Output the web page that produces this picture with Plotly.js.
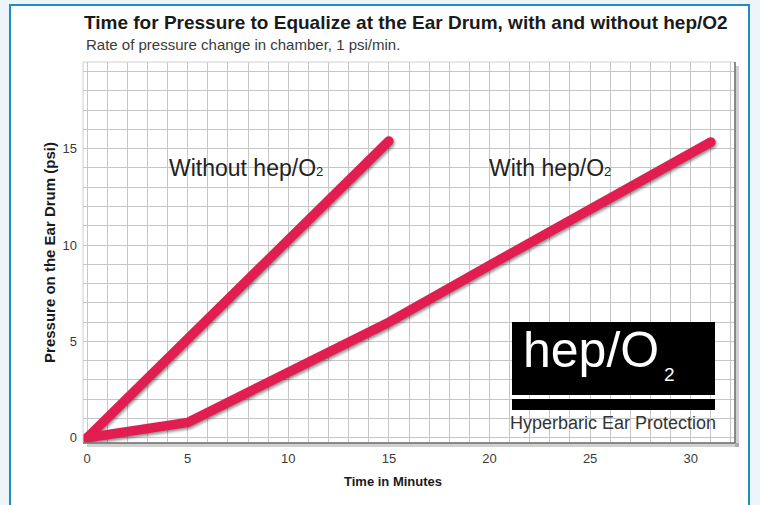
<!DOCTYPE html>
<html>
<head>
<meta charset="utf-8">
<script src="https://cdn.plot.ly/plotly-3.0.1.min.js"></script>
<style>
html,body{margin:0;padding:0;background:#fff;}
#chart{width:760px;height:505px;}
</style>
</head>
<body>
<div id="chart"></div>
<script>
// Data
const withoutX = [0, 15];
const withoutY = [0, 15.4];
const withX = [0, 5, 10, 15, 20, 25, 31];
const withY = [0, 0.8, 3.4, 6.0, 8.95, 11.9, 15.35];
const xTicks = [0, 5, 10, 15, 20, 25, 30];
const yTicks = [0, 5, 10, 15];

const LINE = '#e21d4f';
const FONT = 'Liberation Sans, Arial, sans-serif';

// pixel helpers for layout placement (plot area: l=83, r=735, t=62, b=443)
const L = 83, R = 735, T = 62, B = 443;
const px = v => (v - L) / (R - L);
const py = v => (B - v) / (B - T);

const traces = [
  {x: withoutX, y: withoutY, mode: 'lines', name: 'Without hep/O2',
   line: {color: LINE, width: 9.5}, hoverinfo: 'skip'},
  {x: withX, y: withY, mode: 'lines', name: 'With hep/O2',
   line: {color: LINE, width: 9.5}, hoverinfo: 'skip'}
];

const layout = {
  width: 760, height: 505,
  margin: {l: L, r: 760 - R, t: T, b: 505 - B, pad: 0},
  paper_bgcolor: '#edf5fa',
  plot_bgcolor: '#ffffff',
  showlegend: false,
  font: {family: FONT, color: '#333'},
  title: {
    text: '<b>Time for Pressure to Equalize at the Ear Drum, with and without hep/O2</b>',
    font: {family: FONT, size: 19, color: '#1a1a1a'},
    xref: 'container', yref: 'container',
    x: 84 / 760, xanchor: 'left',
    y: 1 - 22 / 505, yanchor: 'middle'
  },
  xaxis: {
    range: [-0.2, 32.2],
    tickmode: 'array', tickvals: xTicks,
    ticks: '', showline: false, zeroline: false,
    showgrid: true, gridcolor: '#c6c6c6', gridwidth: 1,
    minor: {dtick: 1, tick0: 0, showgrid: true, gridcolor: '#c6c6c6', gridwidth: 1},
    tickfont: {family: FONT, size: 13, color: '#3a3a3a'},
    ticklabelstandoff: 6,
    fixedrange: true
  },
  yaxis: {
    range: [-0.27, 19.5],
    tickmode: 'array', tickvals: yTicks,
    ticks: '', showline: false, zeroline: false,
    showgrid: true, gridcolor: '#c6c6c6', gridwidth: 1,
    minor: {dtick: 1, tick0: 0, showgrid: true, gridcolor: '#c6c6c6', gridwidth: 1},
    tickfont: {family: FONT, size: 13, color: '#3a3a3a'},
    ticklabelstandoff: 5,
    title: {text: '<b>Pressure on the Ear Drum (psi)</b>', font: {family: FONT, size: 15, color: '#1a1a1a'}, standoff: 3},
    fixedrange: true
  },
  shapes: [
    // outer white card with blue frame
    {type: 'rect', xref: 'paper', yref: 'paper', layer: 'below',
     x0: px(10), x1: px(749), y0: py(520), y1: py(5),
     fillcolor: '#ffffff', line: {color: '#1e8dc0', width: 2}},
    // plot drop shadow (right and bottom)
    {type: 'rect', xref: 'paper', yref: 'paper', layer: 'below',
     x0: px(R), x1: px(R + 4), y0: py(B + 4), y1: py(T + 4),
     fillcolor: 'rgba(0,0,0,0.18)', line: {width: 0}},
    {type: 'rect', xref: 'paper', yref: 'paper', layer: 'below',
     x0: px(L + 4), x1: px(R + 4), y0: py(B + 4), y1: py(B),
     fillcolor: 'rgba(0,0,0,0.18)', line: {width: 0}},
    // plot border
    {type: 'rect', xref: 'paper', yref: 'paper', layer: 'above',
     x0: 0, x1: 1, y0: 0, y1: 1, line: {color: '#cfcfcf', width: 1}},
    {type: 'line', xref: 'paper', yref: 'paper', layer: 'above',
     x0: 1, x1: 1, y0: 0, y1: 1, line: {color: '#6e6e6e', width: 1.5}},
    {type: 'line', xref: 'paper', yref: 'paper', layer: 'above',
     x0: 0, x1: 1, y0: 0, y1: 0, line: {color: '#6e6e6e', width: 1.5}},
    // logo box
    {type: 'rect', xref: 'paper', yref: 'paper', layer: 'above',
     x0: px(512), x1: px(715), y0: py(395), y1: py(322),
     fillcolor: '#000000', line: {width: 0}},
    {type: 'rect', xref: 'paper', yref: 'paper', layer: 'above',
     x0: px(512), x1: px(715), y0: py(410), y1: py(399),
     fillcolor: '#000000', line: {width: 0}}
  ],
  annotations: [
    {xref: 'paper', yref: 'paper', x: px(84), y: py(45),
     xanchor: 'left', yanchor: 'middle', showarrow: false,
     text: 'Rate of pressure change in chamber, 1 psi/min.',
     font: {family: FONT, size: 15, color: '#3a3a3a'}},
    {xref: 'paper', yref: 'paper', x: px(393), y: py(481),
     xanchor: 'center', yanchor: 'middle', showarrow: false,
     text: '<b>Time in Minutes</b>',
     font: {family: FONT, size: 13, color: '#1a1a1a'}},
    {xref: 'x', yref: 'y', x: 7.9, y: 14.0, showarrow: false,
     text: 'Without hep/O<span style="font-size:13px">2</span>', font: {family: FONT, size: 23, color: '#222'}},
    {xref: 'x', yref: 'y', x: 23.0, y: 14.0, showarrow: false,
     text: 'With hep/O<span style="font-size:13px">2</span>', font: {family: FONT, size: 23, color: '#222'}},
    {xref: 'paper', yref: 'paper', x: px(521), y: py(350), xanchor: 'left', yanchor: 'middle',
     showarrow: false, text: 'hep/O', font: {family: FONT, size: 50, color: '#ffffff'}},
    {xref: 'paper', yref: 'paper', x: px(662), y: py(374), xanchor: 'left', yanchor: 'middle',
     showarrow: false, text: '2', font: {family: FONT, size: 19, color: '#ffffff'}},
    {xref: 'paper', yref: 'paper', x: px(613), y: py(423), xanchor: 'center', yanchor: 'middle',
     showarrow: false, text: 'Hyperbaric Ear Protection', font: {family: FONT, size: 18, color: '#333'}}
  ]
};

Plotly.newPlot('chart', traces, layout, {staticPlot: true, displayModeBar: false}).then(function () {
  document.querySelectorAll('.scatterlayer .js-line').forEach(function (p) {
    p.style.strokeLinecap = 'round';
    p.style.strokeLinejoin = 'round';
    p.style.filter = 'drop-shadow(1px 2px 1.5px rgba(0,0,0,0.45))';
  });
});
</script>
</body>
</html>
